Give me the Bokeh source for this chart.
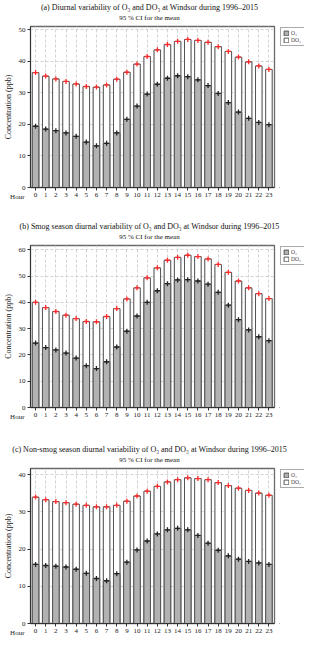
from bokeh.plotting import figure
from bokeh.layouts import column, row
from bokeh.models import Title, Legend, LegendItem, Label, FixedTicker, Range1d
from bokeh.embed import file_html
from bokeh.resources import INLINE

SERIF = "Liberation Serif"

hours = list(range(24))
hour_labels = [str(h) for h in hours]

a_o3 = [19.4, 18.5, 18.0, 17.3, 16.2, 14.4, 13.2, 14.0, 17.3, 21.6, 25.8, 29.6,
        32.7, 34.6, 35.4, 35.1, 34.1, 32.3, 29.8, 26.9, 23.9, 21.9, 20.6, 19.9]
a_do3 = [36.4, 35.3, 34.4, 33.6, 32.8, 32.0, 31.8, 32.5, 34.3, 36.5, 39.1, 41.5,
         43.6, 45.3, 46.3, 46.9, 46.6, 46.0, 44.6, 43.1, 41.3, 39.8, 38.5, 37.4]

b_o3 = [24.5, 22.8, 21.9, 20.7, 18.8, 15.9, 14.8, 17.4, 23.0, 29.0, 34.8, 40.0,
        44.4, 47.1, 48.5, 48.6, 48.1, 46.9, 43.8, 38.9, 33.4, 29.5, 26.9, 25.4]
b_do3 = [40.0, 38.0, 36.5, 35.1, 33.8, 32.7, 32.6, 34.6, 37.6, 41.3, 45.5, 49.3,
         53.1, 56.0, 57.1, 57.9, 57.4, 56.5, 54.4, 51.4, 48.1, 45.5, 43.3, 41.4]

c_o3 = [15.9, 15.6, 15.4, 15.2, 14.6, 13.5, 12.1, 11.5, 13.4, 16.5, 19.8, 22.2,
        24.1, 25.2, 25.6, 25.2, 23.7, 21.6, 19.7, 18.2, 17.3, 16.7, 16.3, 15.9]
c_do3 = [34.0, 33.3, 32.8, 32.5, 32.1, 31.8, 31.4, 31.4, 31.8, 32.9, 34.3, 35.6,
         36.9, 38.1, 38.7, 39.2, 39.0, 38.7, 37.9, 37.1, 36.4, 35.8, 35.1, 34.5]

titles = [
    "(a) Diurnal variability of O\u2083 and DO\u2083 at Windsor during 1996\u20132015",
    "(b) Smog season diurnal variability of O\u2083 and DO\u2083 at Windsor during 1996\u20132015",
    "(c) Non-smog season diurnal variability of O\u2083 and DO\u2083 at Windsor during 1996\u20132015",
]
subtitle = "95 % CI for the mean"
legend_labels = ["O\u2083", "DO\u2083"]
y_maxes = [51.0, 61.6, 41.7]
y_ticks = [[0, 10, 20, 30, 40, 50], [0, 10, 20, 30, 40, 50, 60], [0, 10, 20, 30, 40]]

MAIN_W = 276
LEG_W = 28
TITLE_H = 24

BAR_W = 0.64
DO3_STYLE = dict(fill_color="white", line_color="#555555", line_width=1)
O3_STYLE = dict(fill_color="#b2b2b2", line_color="#555555", line_width=1)
LEG_STYLE = dict(label_text_font=SERIF, label_text_font_size="5.5px",
                 glyph_width=6, glyph_height=6, label_height=6,
                 label_standoff=2, spacing=1, padding=2,
                 border_line_color="#555555", border_line_width=1)


def title_fig(title):
    t = figure(width=304, height=TITLE_H, output_backend="svg", toolbar_location=None,
               title=None, x_range=Range1d(0, 1), y_range=Range1d(0, 1),
               x_axis_type=None, y_axis_type=None,
               min_border_left=24, min_border_right=30,
               min_border_top=0, min_border_bottom=0)
    t.outline_line_color = None
    t.grid.visible = False
    sub = Title(text=subtitle, align="center", text_font=SERIF, text_font_size="7px",
                text_font_style="normal", standoff=1, text_color="#111111")
    t.add_layout(sub, "above")
    main = Title(text=title, align="center", text_font=SERIF, text_font_size="8px",
                 text_font_style="normal", standoff=0, text_color="#111111")
    t.add_layout(main, "above")
    return t


def main_fig(o3, do3, ymax, yticks, height, bottom):
    p = figure(width=MAIN_W, height=height, output_backend="svg", toolbar_location=None,
               title=None,
               x_range=Range1d(-0.5, 23.55), y_range=Range1d(0, ymax),
               min_border_left=4, min_border_right=2,
               min_border_top=2, min_border_bottom=bottom)
    p.background_fill_color = "white"
    p.border_fill_color = "white"
    p.outline_line_color = "#6a6a6a"
    p.outline_line_width = 1.3

    p.vbar(x=hours, top=do3, width=BAR_W + 0.1, fill_color="#bdbdbd", line_color=None)
    p.vbar(x=hours, top=do3, width=BAR_W, **DO3_STYLE)
    p.vbar(x=hours, top=o3, width=BAR_W, **O3_STYLE)
    p.scatter(x=hours, y=do3, marker="cross", size=5, line_color="#ff2a2a", line_width=1.3)
    p.scatter(x=hours, y=o3, marker="cross", size=5, line_color="#222222", line_width=1.3)

    p.xaxis.ticker = FixedTicker(ticks=hours)
    p.xaxis.major_label_overrides = {h: lab for h, lab in zip(hours, hour_labels)}
    p.yaxis.ticker = FixedTicker(ticks=yticks)
    for ax in (p.xaxis[0], p.yaxis[0]):
        ax.minor_tick_line_color = None
        ax.major_tick_in = 0
        ax.major_tick_out = 3
        ax.major_label_standoff = 2
        ax.major_label_text_font = SERIF
        ax.major_label_text_font_size = "7px"
        ax.major_label_text_color = "#222222"
        ax.axis_line_color = "#333333"
        ax.major_tick_line_color = "#333333"
    p.yaxis.axis_label = "Concentration (ppb)"
    p.yaxis.axis_label_text_font = SERIF
    p.yaxis.axis_label_text_font_size = "8px"
    p.yaxis.axis_label_text_font_style = "normal"
    p.yaxis.axis_label_standoff = 3
    p.yaxis.axis_label_text_color = "#222222"

    p.grid.grid_line_color = "#d2d2d2"
    p.grid.grid_line_dash = "3 2"
    p.grid.grid_line_width = 1

    p.add_layout(Label(x=-1.8, y=0, text="Hour", text_align="center", text_baseline="top",
                       y_offset=-5, text_font=SERIF, text_font_size="7px",
                       text_color="#222222"), "below")
    return p


def legend_fig(o3, do3, height):
    lf = figure(width=LEG_W, height=height, output_backend="svg", toolbar_location=None,
                title=None, x_range=Range1d(100, 101), y_range=Range1d(100, 101),
                min_border_left=3, min_border_right=0, min_border_top=2,
                min_border_bottom=0, x_axis_type=None, y_axis_type=None)
    lf.outline_line_color = None
    lf.grid.visible = False
    lo = lf.vbar(x=hours[:1], top=o3[:1], width=BAR_W, **O3_STYLE)
    ld = lf.vbar(x=hours[:1], top=do3[:1], width=BAR_W, **DO3_STYLE)
    lf.add_layout(Legend(items=[LegendItem(label=legend_labels[0], renderers=[lo]),
                                LegendItem(label=legend_labels[1], renderers=[ld])],
                         location="top_left", margin=1, **LEG_STYLE), "center")
    return lf


def panel(title, o3, do3, ymax, yticks, height, bottom):
    return column(title_fig(title),
                  row(main_fig(o3, do3, ymax, yticks, height, bottom),
                      legend_fig(o3, do3, height), spacing=0),
                  spacing=0)


pa = panel(titles[0], a_o3, a_do3, y_maxes[0], y_ticks[0], 195, 32)
pb = panel(titles[1], b_o3, b_do3, y_maxes[1], y_ticks[1], 199, 35)
pc = panel(titles[2], c_o3, c_do3, y_maxes[2], y_ticks[2], 177, 12)

layout = column(pa, pb, pc, spacing=0)
open("out.html", "w").write(file_html(layout, INLINE))
